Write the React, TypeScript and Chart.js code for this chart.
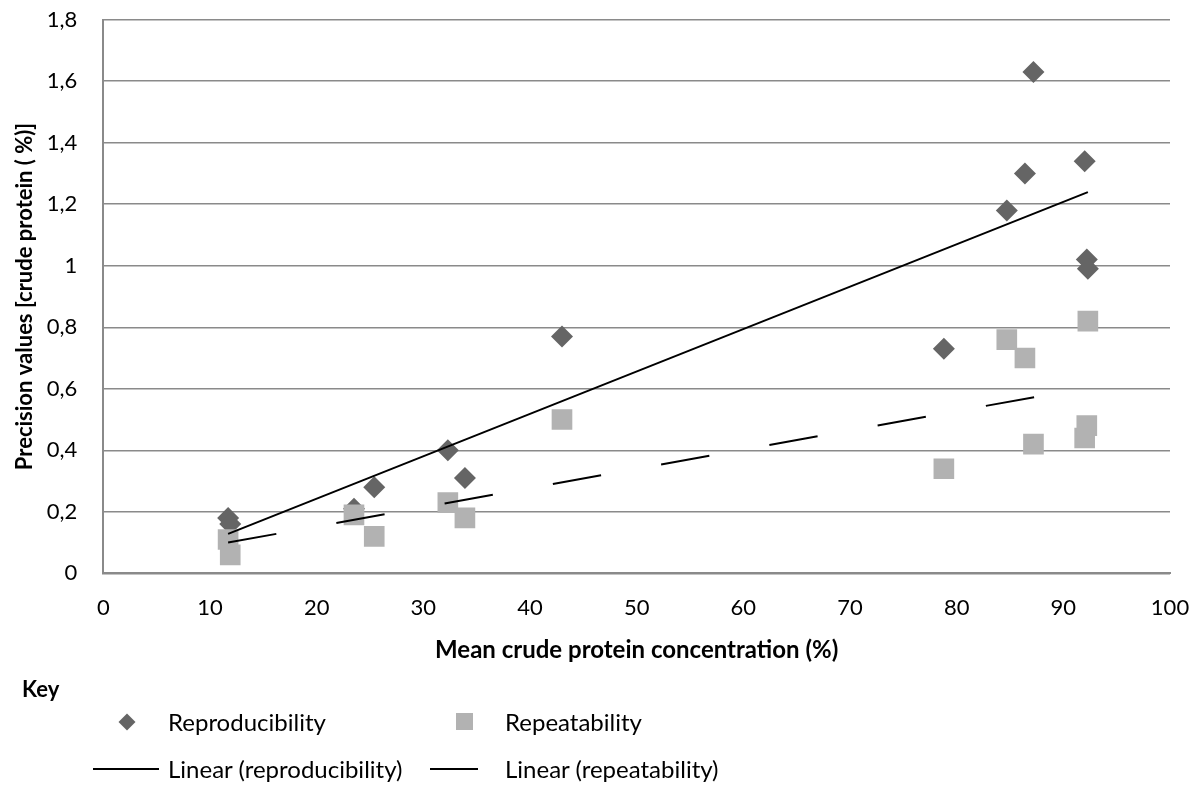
import { useEffect, useRef } from "react";
import Chart from "chart.js/auto";

// Mean crude protein concentration (%) of each sample
const concentration = [11.7, 11.9, 23.5, 25.4, 32.3, 33.9, 43.0, 78.8, 84.7, 86.4, 87.2, 92.0, 92.2, 92.3];
// precision values [crude protein (%)]
const reproducibility = [0.18, 0.16, 0.21, 0.28, 0.4, 0.31, 0.77, 0.73, 1.18, 1.3, 1.63, 1.34, 1.02, 0.99];
const repeatability = [0.11, 0.06, 0.19, 0.12, 0.23, 0.18, 0.5, 0.34, 0.76, 0.7, 0.42, 0.44, 0.48, 0.82];

const yTickLabels = ["0", "0,2", "0,4", "0,6", "0,8", "1", "1,2", "1,4", "1,6", "1,8"];

const FONT = "Lato, 'Open Sans', sans-serif";
const DARK = "#656565";
const LIGHT = "#b2b2b2";
const GRID = "#8a8a8a";
const NONE = "rgba(0,0,0,0)";

// least squares trend line, like the spreadsheet's "Linear" trendline
function linearTrend(xs: number[], ys: number[]) {
  const n = xs.length;
  const mx = xs.reduce((a, b) => a + b, 0) / n;
  const my = ys.reduce((a, b) => a + b, 0) / n;
  let sxy = 0;
  let sxx = 0;
  xs.forEach((x, i) => {
    sxy += (x - mx) * (ys[i] - my);
    sxx += (x - mx) * (x - mx);
  });
  const slope = sxy / sxx;
  const x0 = Math.min(...xs);
  const x1 = Math.max(...xs);
  return [
    { x: x0, y: my + slope * (x0 - mx) },
    { x: x1, y: my + slope * (x1 - mx) },
  ];
}

function Legend() {
  const text = { position: "absolute" as const, fontSize: 24, lineHeight: "30px", whiteSpace: "nowrap" as const };
  return (
    <>
      <div style={{ ...text, left: 22, top: 674, fontWeight: 700, fontSize: 22 }}>Key</div>

      <div
        style={{
          position: "absolute",
          left: 127 - 6,
          top: 722 - 6,
          width: 12,
          height: 12,
          background: DARK,
          transform: "rotate(45deg)",
        }}
      />
      <div style={{ ...text, left: 168, top: 707 }}>Reproducibility</div>

      <div style={{ position: "absolute", left: 456, top: 713, width: 17, height: 17, background: LIGHT }} />
      <div style={{ ...text, left: 505, top: 707 }}>Repeatability</div>

      <div style={{ position: "absolute", left: 93, top: 768, width: 66, height: 2, background: "#000" }} />
      <div style={{ ...text, left: 168, top: 754 }}>Linear (reproducibility)</div>

      <div style={{ position: "absolute", left: 430, top: 768, width: 48, height: 2, background: "#000" }} />
      <div style={{ ...text, left: 505, top: 754 }}>Linear (repeatability)</div>
    </>
  );
}

export default function App() {
  const canvasRef = useRef<HTMLCanvasElement>(null);
  const chartRef = useRef<Chart | null>(null);

  useEffect(() => {
    document.body.style.margin = "0";
    if (!canvasRef.current) return;
    if (chartRef.current) chartRef.current.destroy();

    Chart.defaults.font.family = FONT;
    Chart.defaults.color = "#000";

    const reproPoints = concentration.map((x, i) => ({ x, y: reproducibility[i] }));
    const repeatPoints = concentration.map((x, i) => ({ x, y: repeatability[i] }));

    chartRef.current = new Chart(canvasRef.current, {
      type: "scatter",
      data: {
        datasets: [
          {
            label: "Reproducibility",
            data: reproPoints,
            pointStyle: "rectRot",
            pointRadius: 11,
            backgroundColor: DARK,
            borderColor: DARK,
            borderWidth: 0,
            order: 3,
          },
          {
            label: "Repeatability",
            data: repeatPoints,
            pointStyle: "rect",
            pointRadius: 14.6,
            backgroundColor: LIGHT,
            borderColor: LIGHT,
            borderWidth: 0,
            order: 2,
          },
          {
            label: "Linear (reproducibility)",
            data: linearTrend(concentration, reproducibility),
            showLine: true,
            pointRadius: 0,
            borderColor: "#000",
            borderWidth: 2,
            order: 1,
          },
          {
            label: "Linear (repeatability)",
            data: linearTrend(concentration, repeatability),
            showLine: true,
            pointRadius: 0,
            borderColor: "#000",
            borderWidth: 2,
            borderDash: [49, 61],
            order: 0,
          },
        ],
      },
      options: {
        animation: false,
        responsive: false,
        maintainAspectRatio: false,
        layout: { padding: { left: 0, right: 33, top: 19.7, bottom: 119.9 } },
        plugins: {
          legend: { display: false },
          tooltip: { enabled: false },
        },
        scales: {
          x: {
            type: "linear",
            min: 0,
            max: 100,
            // an invisible tick mark gives the gap under the axis
            ticks: { stepSize: 10, padding: 0, font: { size: 22 } },
            grid: { color: NONE, tickColor: NONE, drawTicks: true, tickLength: 21.5 },
            border: { display: true, color: GRID, width: 2 },
            title: {
              display: true,
              text: "Mean crude protein concentration (%)",
              font: { size: 24, weight: "bold" },
              padding: 0,
            },
            afterFit: (scale) => {
              scale.height = 91.8;
            },
          },
          y: {
            type: "linear",
            min: 0,
            max: 1.8,
            ticks: {
              stepSize: 0.2,
              padding: 0,
              font: { size: 22 },
              callback: (_v, i) => yTickLabels[i],
            },
            grid: { color: GRID, lineWidth: 1.5, tickColor: NONE, drawTicks: true, tickLength: 26 },
            border: { display: true, color: GRID, width: 2 },
            title: {
              display: true,
              text: "Precision values [crude protein ( %)]",
              font: { size: 22, weight: "bold" },
              padding: { top: 11.8, bottom: 0 },
            },
            afterFit: (scale) => {
              scale.width = 103.3;
            },
          },
        },
      },
    });

    return () => {
      if (chartRef.current) {
        chartRef.current.destroy();
        chartRef.current = null;
      }
    };
  }, []);

  return (
    <div style={{ position: "relative", width: 1203, height: 785, fontFamily: FONT, color: "#000", background: "#fff" }}>
      <canvas ref={canvasRef} width={1203} height={785} style={{ position: "absolute", left: 0, top: 0 }} />
      <Legend />
    </div>
  );
}
